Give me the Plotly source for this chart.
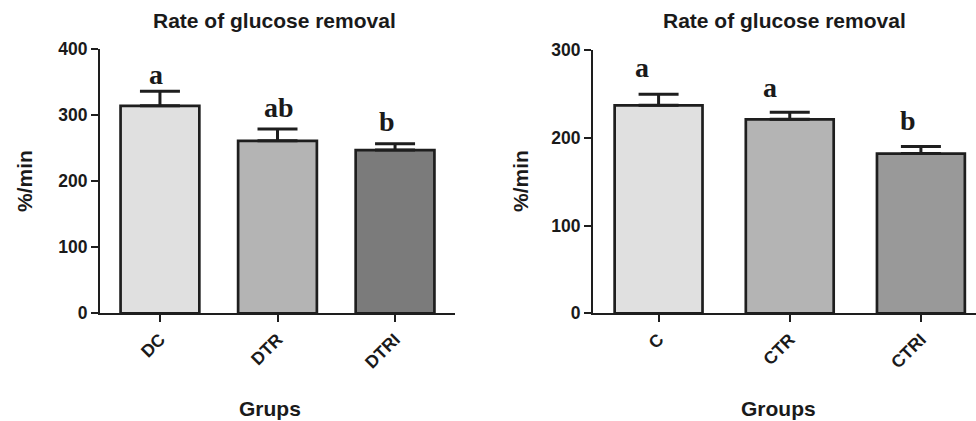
import plotly.graph_objects as go

# Left panel data
groups_left = ["DC", "DTR", "DTRI"]
values_left = [314, 261, 247]
errors_left = [22, 18, 9.5]
letters_left = ["a", "ab", "b"]
letter_y_left = [362, 312, 290]
colors_left = ["#e0e0e0", "#b4b4b4", "#7b7b7b"]

# Right panel data
groups_right = ["C", "CTR", "CTRI"]
values_right = [237, 221, 182]
errors_right = [12.5, 8, 8]
letters_right = ["a", "a", "b"]
letter_y_right = [280, 257, 220]
colors_right = ["#e0e0e0", "#b4b4b4", "#999999"]

W, H = 976, 421
dark = "#1e1e1e"

fig = go.Figure()

fig.add_trace(go.Bar(
    x=groups_left, y=values_left, width=0.67,
    marker=dict(color=colors_left, line=dict(color=dark, width=2.7)),
    error_y=dict(type="data", array=errors_left, arrayminus=[0, 0, 0], symmetric=False,
                 color=dark, thickness=3, width=20),
    xaxis="x", yaxis="y", showlegend=False))

fig.add_trace(go.Bar(
    x=groups_right, y=values_right, width=0.67,
    marker=dict(color=colors_right, line=dict(color=dark, width=2.7)),
    error_y=dict(type="data", array=errors_right, arrayminus=[0, 0, 0], symmetric=False,
                 color=dark, thickness=3, width=20),
    xaxis="x2", yaxis="y2", showlegend=False))

tickfont = dict(family="Liberation Sans", size=17.5, color="#1a1a1a", weight="bold")
axcommon = dict(showline=True, linecolor=dark, linewidth=2, ticks="outside",
                ticklen=7, tickwidth=2, tickcolor=dark, showgrid=False,
                zeroline=False, tickfont=tickfont, automargin=False)

y_bottom = (H - 313.3) / H
fig.update_layout(
    width=W, height=H, autosize=False,
    margin=dict(l=0, r=0, t=0, b=0, pad=0, autoexpand=False),
    paper_bgcolor="white", plot_bgcolor="white",
    xaxis=dict(domain=[100 / W, 455 / W], range=[-0.51, 2.51], anchor="y",
               tickangle=-45, **axcommon),
    yaxis=dict(domain=[y_bottom, (H - 49) / H], range=[0, 400], anchor="x",
               tickvals=[0, 100, 200, 300, 400], **axcommon),
    xaxis2=dict(domain=[593 / W, 1.0], range=[-0.5, 2.42], anchor="y2",
                tickangle=-45, **axcommon),
    yaxis2=dict(domain=[y_bottom, (H - 50) / H], range=[0, 300], anchor="x2",
                tickvals=[0, 100, 200, 300], **axcommon),
)

titlefont = dict(family="Liberation Sans", size=21, color="#1a1a1a", weight="bold")
letterfont = dict(family="Liberation Serif", size=28, color="#1a1a1a", weight="bold")

ann = []
def paper_text(text, x, y, angle=0):
    ann.append(dict(text=text, x=x / W, y=1 - y / H, xref="paper", yref="paper",
                    xanchor="center", yanchor="middle", showarrow=False,
                    textangle=angle, font=titlefont))

paper_text("Rate of glucose removal", 274, 21)
paper_text("Rate of glucose removal", 784, 21)
paper_text("%/min", 24, 181, -90)
paper_text("%/min", 520, 181, -90)
paper_text("Grups", 270, 408)
paper_text("Groups", 778, 408)

# Significance letters
left_shift = [-0.03, 0.01, -0.07]
for i, (l, yy) in enumerate(zip(letters_left, letter_y_left)):
    ann.append(dict(text=l, x=i + left_shift[i], y=yy, xref="x", yref="y",
                    xanchor="center", yanchor="middle", showarrow=False, font=letterfont))
right_shift = [-0.13, -0.15, -0.1]
for i, (l, yy) in enumerate(zip(letters_right, letter_y_right)):
    ann.append(dict(text=l, x=i + right_shift[i], y=yy, xref="x2", yref="y2",
                    xanchor="center", yanchor="middle", showarrow=False, font=letterfont))

fig.update_layout(annotations=ann)
fig.write_html("out.html",
               config={"displayModeBar": False},
               post_script="document.body.style.margin='0';document.body.style.overflow='hidden';")
